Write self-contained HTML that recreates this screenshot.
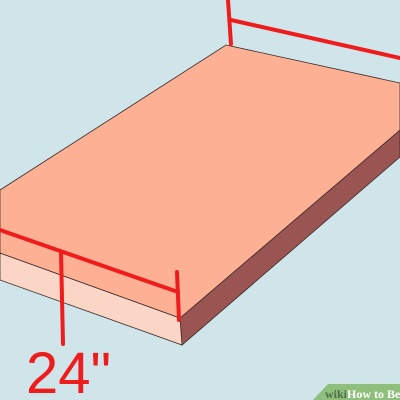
<!DOCTYPE html>
<html><head><meta charset="utf-8"><style>
html,body{margin:0;padding:0;width:400px;height:400px;overflow:hidden;background:#cfe5ea}
svg{display:block}
</style></head><body>
<svg width="400" height="400" viewBox="0 0 400 400">
<rect x="0" y="0" width="400" height="400" fill="#cfe5ea"/>
<polygon points="180,318 400,130 400,157 182,345" fill="#9a5552" stroke="#3a2a2a" stroke-width="0.8"/>
<polygon points="0,253 180,318 182,345 0,280" fill="#fbd6c6" stroke="#3a2a2a" stroke-width="0.8"/>
<polygon points="226,45 400,83 400,130 180,318 0,253 0,190" fill="#fdb093" stroke="#3a2a2a" stroke-width="0.8"/>
<g stroke="#ee1c1c" stroke-width="4" stroke-linecap="round" fill="none">
<line x1="0" y1="230" x2="178" y2="292"/>
<line x1="177" y1="272" x2="179" y2="320"/>
<line x1="61" y1="252" x2="63" y2="344"/>
<line x1="228" y1="0" x2="231" y2="44"/>
<line x1="231" y1="20" x2="400" y2="58"/>
</g>
<text x="26" y="393" font-family="Liberation Sans, sans-serif" font-size="58" fill="#ee1c1c">24"</text>
<polygon points="328,384 400,384 400,400 313,400" fill="#8fbf7c"/>
<text x="325" y="398" font-family="Liberation Serif, serif" font-weight="bold" font-size="12" fill="#4e6e45">wiki<tspan fill="#ffffff">How to Be</tspan></text>
</svg>
</body></html>
